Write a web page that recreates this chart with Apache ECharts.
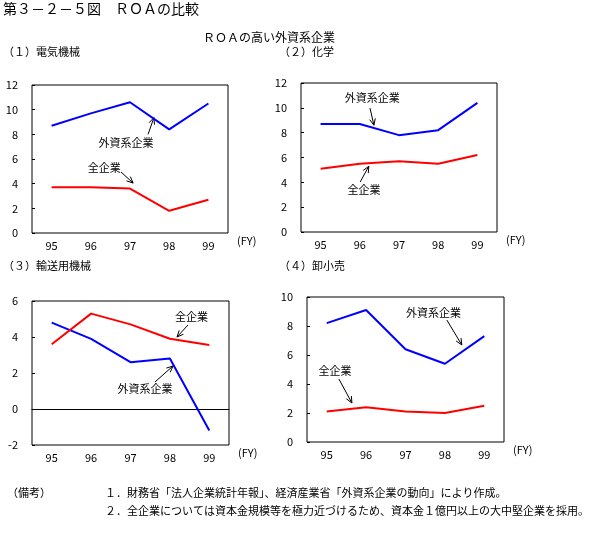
<!DOCTYPE html>
<html>
<head>
<meta charset="utf-8">
<script src="https://cdn.jsdelivr.net/npm/echarts@6/dist/echarts.min.js"></script>
<style>
html,body{margin:0;padding:0;background:#fff;}
#c{width:589px;height:535px;}
</style>
</head>
<body>
<div id="c"></div>
<script>
// ---- data ----
const categories = ['95', '96', '97', '98', '99'];
const elecForeign = [8.7, 9.7, 10.6, 8.4, 10.5];
const elecAll     = [3.7, 3.7, 3.6, 1.8, 2.7];
const chemForeign = [8.7, 8.7, 7.8, 8.2, 10.4];
const chemAll     = [5.1, 5.5, 5.7, 5.5, 6.2];
const transForeign = [4.8, 3.9, 2.6, 2.8, -1.2];
const transAll     = [3.6, 5.3, 4.7, 3.9, 3.55];
const retailForeign = [8.2, 9.1, 6.4, 5.4, 7.3];
const retailAll     = [2.1, 2.4, 2.1, 2.0, 2.5];
const yMins = [0, 0, -2, 0];
const yMaxs = [12, 12, 6, 10];
const panelTitles = ['（１）電気機械', '（２）化学', '（３）輸送用機械', '（４）卸小売'];
const foreignLabel = '外資系企業';
const allLabel = '全企業';
// annotations: [textX, textY, arrowStartX, arrowStartY, arrowEndX, arrowEndY] (x in band units)
const annotations = [
  [[2.40, 7.3, 2.96, 8.0, 3.11, 9.35], [1.84, 5.3, 2.27, 4.95, 2.58, 4.05]],
  [[1.82, 10.83, 1.76, 9.98, 1.86, 8.6], [1.61, 3.42, 1.51, 4.03, 1.73, 5.3]],
  [[4.05, 5.11, 3.96, 4.67, 3.68, 4.0], [2.87, 1.14, 3.12, 1.5, 3.58, 2.39]],
  [[3.21, 8.93, 3.55, 8.41, 3.93, 6.69], [0.71, 4.9, 0.81, 4.34, 1.14, 2.69]]
];
const annotationTexts = [
  [foreignLabel, allLabel], [foreignLabel, allLabel], [allLabel, foreignLabel], [foreignLabel, allLabel]
];

const FONT = '"Noto Sans CJK JP", "Noto Sans", sans-serif';
const grids = [
  {left: 32, top: 85, width: 196, height: 148},
  {left: 301, top: 83, width: 196, height: 149},
  {left: 32, top: 301, width: 197, height: 144},
  {left: 307, top: 297, width: 197, height: 145}
];
const foreignSets = [elecForeign, chemForeign, transForeign, retailForeign];
const allSets = [elecAll, chemAll, transAll, retailAll];

const xAxis = [], yAxis = [], series = [];
grids.forEach((g, i) => {
  g.show = true; g.borderColor = '#000'; g.borderWidth = 1; g.backgroundColor = 'transparent';
  xAxis.push({
    type: 'category', gridIndex: i, data: categories, boundaryGap: true,
    axisLine: {show: false, onZero: false}, axisTick: {show: false},
    axisLabel: {color: '#000', fontSize: 11, fontFamily: FONT, margin: 7},
    name: '(FY)', nameLocation: 'end', nameGap: 9,
    nameTextStyle: {color: '#000', fontSize: 11, fontFamily: FONT, verticalAlign: 'top', padding: [2, 0, 0, 0]}
  });
  xAxis.push({
    type: 'value', gridIndex: i, min: 0, max: 5, interval: 1,
    show: i === 2,
    axisLine: {show: i === 2, onZero: true, lineStyle: {color: '#000', width: 1}},
    axisTick: {show: false}, axisLabel: {show: false}, splitLine: {show: false}
  });
  yAxis.push({
    type: 'value', gridIndex: i, min: yMins[i], max: yMaxs[i], interval: 2,
    axisLine: {show: false},
    axisTick: {show: true, inside: true, length: 3, lineStyle: {color: '#000'}},
    splitLine: {show: false},
    axisLabel: {color: '#000', fontSize: 11, fontFamily: FONT, margin: 14}
  });
  const xi = i * 2 + 1;
  [[foreignSets[i], '#0000ff'], [allSets[i], '#ff0000']].forEach(([vals, col]) => {
    series.push({
      type: 'line', xAxisIndex: xi, yAxisIndex: i,
      data: vals.map((v, k) => [k + 0.5, v]),
      symbol: 'none', lineStyle: {color: col, width: 2}, silent: true, animation: false
    });
  });
  series.push({
    type: 'custom', xAxisIndex: xi, yAxisIndex: i, animation: false, silent: true,
    clip: false,
    data: annotations[i],
    encode: {x: 0, y: 1},
    renderItem: function (params, api) {
      const t = api.coord([api.value(0), api.value(1)]);
      const s = api.coord([api.value(2), api.value(3)]);
      const e = api.coord([api.value(4), api.value(5)]);
      const dx = e[0] - s[0], dy = e[1] - s[1];
      const len = Math.sqrt(dx * dx + dy * dy);
      const ux = dx / len, uy = dy / len;
      const hl = 7, ang = 0.42;
      const cos = Math.cos(ang), sin = Math.sin(ang);
      const p1 = [e[0] - hl * (ux * cos - uy * sin), e[1] - hl * (uy * cos + ux * sin)];
      const p2 = [e[0] - hl * (ux * cos + uy * sin), e[1] - hl * (uy * cos - ux * sin)];
      return {
        type: 'group',
        children: [
          {type: 'text', style: {text: annotationTexts[i][params.dataIndex], x: t[0], y: t[1],
            align: 'center', verticalAlign: 'middle', fill: '#000', font: '11px ' + FONT}},
          {type: 'line', shape: {x1: s[0], y1: s[1], x2: e[0], y2: e[1]}, style: {stroke: '#000', lineWidth: 1}},
          {type: 'polyline', shape: {points: [p1, e, p2]}, style: {stroke: '#000', lineWidth: 1, fill: null}}
        ]
      };
    }
  });
});

const textStyle = (txt, x, y, size) => ({
  type: 'text', left: x, top: y,
  style: {text: txt, fill: '#000', font: size + 'px ' + FONT}
});

const chart = echarts.init(document.getElementById('c'), null, {renderer: 'canvas'});
chart.setOption({
  backgroundColor: '#fff',
  animation: false,
  grid: grids,
  xAxis: xAxis,
  yAxis: yAxis,
  series: series,
  graphic: [
    textStyle('第３－２－５図　ＲＯＡの比較', 3, 2, 14),
    textStyle('ＲＯＡの高い外資系企業', 203, 31, 12),
    textStyle(panelTitles[0], 3, 46, 11),
    textStyle(panelTitles[1], 279, 46, 11),
    textStyle(panelTitles[2], 3, 260, 11),
    textStyle(panelTitles[3], 279, 260, 11),
    textStyle('（備考）', 7, 487, 11),
    textStyle('１．財務省「法人企業統計年報」、経済産業省「外資系企業の動向」により作成。', 105, 487, 11),
    textStyle('２．全企業については資本金規模等を極力近づけるため、資本金１億円以上の大中堅企業を採用。', 105, 505, 11)
  ]
});
</script>
</body>
</html>
